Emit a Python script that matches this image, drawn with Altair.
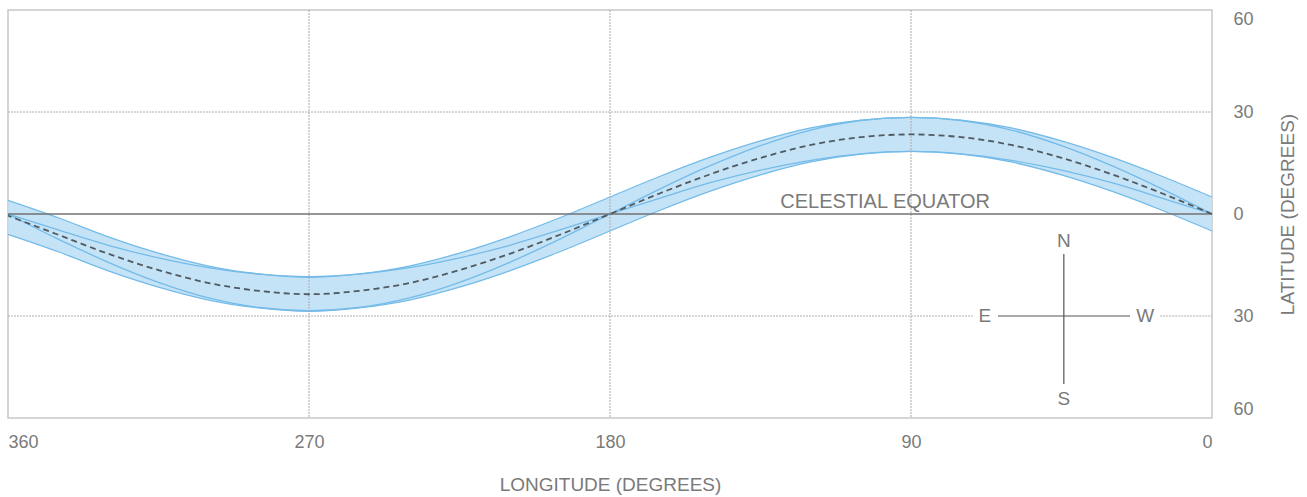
import altair as alt
import pandas as pd

# Longitudes (degrees), every 15
lon = [0, 15, 30, 45, 60, 75, 90, 105, 120, 135, 150, 165, 180,
       195, 210, 225, 240, 255, 270, 285, 300, 315, 330, 345, 360]
# Ecliptic (dashed line), latitude
ecliptic = [0, 6.1, 11.7, 16.5, 20.3, 22.6, 23.4, 22.6, 20.3, 16.5, 11.7, 6.1, 0,
            -6.1, -11.7, -16.5, -20.3, -22.6, -23.6, -22.6, -20.3, -16.5, -11.7, -6.1, -0.5]
# Band envelope (upper / lower edges)
band_upper = [5.0, 11.1, 16.7, 21.5, 25.3, 27.6, 28.4, 27.6, 25.3, 21.5, 16.7, 11.1, 5.0,
              -1.1, -6.7, -11.5, -15.3, -17.6, -18.6, -17.6, -15.3, -11.5, -6.7, -1.1, 4.0]
band_lower = [-5.0, 1.1, 6.7, 11.5, 15.3, 17.6, 18.4, 17.6, 15.3, 11.5, 6.7, 1.1, -5.0,
              -11.1, -16.7, -21.5, -25.3, -27.6, -28.6, -27.6, -25.3, -21.5, -16.7, -11.1, -6.0]
# Inner paths through the nodes
inner_high = [0, 7.4, 14.2, 20.1, 24.7, 27.5, 28.4, 27.5, 24.7, 20.1, 14.2, 7.4, 0,
              -7.4, -14.2, -20.1, -24.7, -27.5, -28.4, -27.5, -24.7, -20.1, -14.2, -7.4, 0]
inner_low = [0, 4.7, 9.2, 12.9, 15.8, 17.7, 18.4, 17.7, 15.8, 12.9, 9.2, 4.7, 0,
             -4.7, -9.2, -12.9, -15.8, -17.7, -18.4, -17.7, -15.8, -12.9, -9.2, -4.7, 0]

x_ticks = [360, 270, 180, 90, 0]
y_ticks = [-60, -30, 0, 30, 60]

# Grid lines
vgrid_lon = [270, 180, 90]
hgrid = pd.DataFrame({"lat": [30, -30, -30], "x1": [360, 360, 15.5], "x2": [0, 71.5, 0]})

# Compass annotation (lon/lat)
comp_lon, comp_lat = 44.3, -30
comp_h = pd.DataFrame({"a": [64.0], "b": [24.5], "lat": [comp_lat]})
comp_v = pd.DataFrame({"lon": [comp_lon], "a": [-11.8], "b": [-50.0]})
comp_text = pd.DataFrame({
    "lon": [comp_lon, comp_lon, 67.9, 20.0],
    "lat": [-8.0, -54.5, comp_lat, comp_lat],
    "t": ["N", "S", "E", "W"],
})
eq_text = pd.DataFrame({"lon": [66.4], "lat": [1.9], "t": ["CELESTIAL EQUATOR"]})

band = pd.DataFrame({"lon": lon, "lo": band_lower, "hi": band_upper})
lines = pd.concat([
    pd.DataFrame({"lon": lon, "lat": band_upper, "s": "upper"}),
    pd.DataFrame({"lon": lon, "lat": band_lower, "s": "lower"}),
    pd.DataFrame({"lon": lon, "lat": inner_high, "s": "ih"}),
    pd.DataFrame({"lon": lon, "lat": inner_low, "s": "il"}),
])
ecl = pd.DataFrame({"lon": lon, "lat": ecliptic})

FONT = "Liberation Sans"
GRAY = "#7a7a7a"

xscale = alt.Scale(domain=[360, 0], nice=False)
yscale = alt.Scale(domain=[-60, 60], nice=False)

xaxis = alt.Axis(values=x_ticks, title="LONGITUDE (DEGREES)", grid=False, domain=False,
                 ticks=False, labelPadding=15, labelFontSize=18, labelColor=GRAY,
                 labelFont=FONT, titleFont=FONT, titleFontSize=19, titleColor=GRAY,
                 titleFontWeight="normal", titlePadding=24, labelFlush=True)
yaxis = alt.Axis(values=y_ticks, orient="right", title="LATITUDE (DEGREES)", grid=False,
                 domain=False, ticks=False, labelPadding=21, labelFontSize=18,
                 labelColor=GRAY, labelFont=FONT, labelExpr="abs(datum.value)",
                 titleFont=FONT, titleFontSize=19, titleColor=GRAY, titleAngle=270,
                 titleFontWeight="normal", titlePadding=44, labelFlush=True)

band_layer = alt.Chart(band).mark_area(color="#bfe0f6", opacity=0.9,
                                       interpolate="monotone").encode(
    x=alt.X("lon:Q", scale=xscale, axis=xaxis),
    y=alt.Y("lo:Q", scale=yscale, axis=yaxis),
    y2="hi:Q",
)

line_layer = alt.Chart(lines).mark_line(color="#74bbe8", strokeWidth=1.3,
                                        interpolate="monotone").encode(
    x=alt.X("lon:Q", scale=xscale),
    y=alt.Y("lat:Q", scale=yscale),
    detail="s:N",
    order="lon:Q",
)

vgrid = alt.Chart(pd.DataFrame({"lon": vgrid_lon})).mark_rule(
    color="#aaaaaa", strokeWidth=1, strokeDash=[2, 1]).encode(
    x=alt.X("lon:Q", scale=xscale))

hgrid_layer = alt.Chart(hgrid).mark_rule(
    color="#b0b0b0", strokeWidth=1, strokeDash=[2, 1]).encode(
    x=alt.X("x1:Q", scale=xscale), x2="x2:Q", y=alt.Y("lat:Q", scale=yscale))

equator = alt.Chart(pd.DataFrame({"lat": [0]})).mark_rule(
    color="#727272", strokeWidth=1.3).encode(y=alt.Y("lat:Q", scale=yscale))

ecl_layer = alt.Chart(ecl).mark_line(color="#505a60", strokeWidth=1.8,
                                     strokeDash=[6, 4], interpolate="monotone").encode(
    x=alt.X("lon:Q", scale=xscale), y=alt.Y("lat:Q", scale=yscale), order="lon:Q")

ch = alt.Chart(comp_h).mark_rule(color="#555555", strokeWidth=1.2).encode(
    x=alt.X("a:Q", scale=xscale), x2="b:Q", y=alt.Y("lat:Q", scale=yscale))
cv = alt.Chart(comp_v).mark_rule(color="#555555", strokeWidth=1.2).encode(
    x=alt.X("lon:Q", scale=xscale), y=alt.Y("a:Q", scale=yscale), y2="b:Q")
ct = alt.Chart(comp_text).mark_text(font=FONT, fontSize=19, color=GRAY,
                                    baseline="middle", align="center").encode(
    x=alt.X("lon:Q", scale=xscale), y=alt.Y("lat:Q", scale=yscale), text="t:N")
et = alt.Chart(eq_text).mark_text(font=FONT, fontSize=20, color=GRAY, align="right",
                                  baseline="alphabetic").encode(
    x=alt.X("lon:Q", scale=xscale), y=alt.Y("lat:Q", scale=yscale), text="t:N")

chart = alt.layer(
    band_layer, line_layer, vgrid, hgrid_layer, equator, ecl_layer, ch, cv, ct, et
).properties(
    width=1204, height=408,
    autosize=alt.AutoSizeParams(type="none"),
    padding={"left": 8, "top": 10, "right": 95, "bottom": 79},
    background="white",
).configure_view(stroke="#c8c8c8", strokeWidth=1.5)

chart.save("out.html", embed_options={"renderer": "svg", "actions": False})
